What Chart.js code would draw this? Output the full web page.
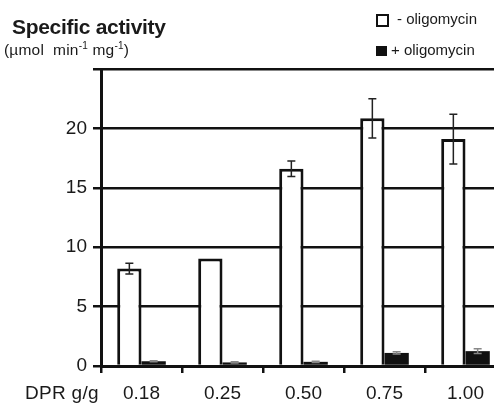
<!DOCTYPE html>
<html>
<head>
<meta charset="utf-8">
<script src="https://cdn.jsdelivr.net/npm/chart.js@4.4.1/dist/chart.umd.min.js"></script>
<style>
    html, body { margin: 0; padding: 0; background: #fff; overflow: hidden; width: 494px; height: 404px; }
    body { position: relative; font-family: "Liberation Sans", Arial, sans-serif; color: #1a1a1a; }
    #chart { position: absolute; left: 0; top: 0; }
    .title { position: absolute; left: 12px; top: 15px; font-size: 21px; font-weight: bold; letter-spacing: -0.3px; }
    .unit { position: absolute; left: 4px; top: 40px; font-size: 15.5px; letter-spacing: 0.2px; }
    .unit sup { font-size: 10px; vertical-align: 6px; }
    .legend { position: absolute; left: 376px; font-size: 15px; }
    .legend .box { display: inline-block; box-sizing: border-box; vertical-align: middle; margin-right: 4px; }
    .xname { position: absolute; left: 25px; top: 382px; font-size: 19px; letter-spacing: 0.3px; }
</style>
</head>
<body>
<canvas id="chart" width="510" height="404"></canvas>
<div class="title">Specific activity</div>
<div class="unit">(µmol&nbsp; min<sup>-1</sup> mg<sup>-1</sup>)</div>
<div class="legend" style="top: 10px;"><span class="box" style="width:13px;height:13px;border:2.5px solid #111;background:#fff;margin-right:8px;"></span>- oligomycin</div>
<div class="legend" style="top: 41px;"><span class="box" style="width:11px;height:10px;background:#111;"></span>+ oligomycin</div>
<div class="xname">DPR g/g</div>
<script>
const categories = ['0.18', '0.25', '0.50', '0.75', '1.00'];
const withoutOligo = [8.2, 9.05, 16.6, 20.85, 19.1];
const withoutOligoErr = [0.45, 0, 0.65, 1.65, 2.1];
const withOligo = [0.4, 0.3, 0.35, 1.1, 1.25];
const withOligoErr = [0.05, 0.05, 0.05, 0.1, 0.2];
const yTicks = [0, 5, 10, 15, 20];

const errorBars = {
    id: 'errorBars',
    afterDatasetsDraw(chart) {
        const ctx = chart.ctx;
        const y = chart.scales.y;
        const sets = [[0, withoutOligo, withoutOligoErr, '#222'], [1, withOligo, withOligoErr, '#888']];
        ctx.save();
        sets.forEach(([idx, vals, errs, color]) => {
            chart.getDatasetMeta(idx).data.forEach((bar, i) => {
                if (!errs[i]) return;
                const top = y.getPixelForValue(vals[i] + errs[i]);
                const bottom = y.getPixelForValue(vals[i] - errs[i]);
                ctx.strokeStyle = color;
                ctx.lineWidth = 1.5;
                ctx.beginPath();
                ctx.moveTo(bar.x, top);
                ctx.lineTo(bar.x, bottom);
                ctx.moveTo(bar.x - 4, top);
                ctx.lineTo(bar.x + 4, top);
                ctx.moveTo(bar.x - 4, bottom);
                ctx.lineTo(bar.x + 4, bottom);
                ctx.stroke();
            });
        });
        ctx.restore();
    }
};

new Chart(document.getElementById('chart'), {
    type: 'bar',
    data: {
        labels: categories,
        datasets: [{
            label: '- oligomycin',
            data: withoutOligo,
            backgroundColor: '#fff',
            borderColor: '#111',
            borderWidth: 3,
            categoryPercentage: 0.6,
            barPercentage: 1
        }, {
            label: '+ oligomycin',
            data: withOligo,
            backgroundColor: '#111',
            borderColor: '#111',
            borderWidth: 0,
            categoryPercentage: 0.6,
            barPercentage: 1
        }]
    },
    options: {
        responsive: false,
        animation: false,
        layout: { padding: { top: 69, right: 4, left: 0, bottom: 0 } },
        plugins: { legend: { display: false }, tooltip: { enabled: false } },
        scales: {
            x: {
                grid: { drawOnChartArea: false, drawTicks: true, tickLength: 7, color: '#111', lineWidth: 2.5, offset: true },
                border: { color: '#111', width: 3 },
                ticks: { color: '#1a1a1a', font: { family: 'Liberation Sans', size: 19 }, padding: 9 },
                afterFit(scale) { scale.height = 38; }
            },
            y: {
                min: 0,
                max: 25,
                afterBuildTicks(scale) {
                    scale.ticks = yTicks.concat([25]).map(v => ({ value: v }));
                },
                grid: { color: '#111', lineWidth: 2.5, tickLength: 8 },
                border: { color: '#111', width: 3 },
                ticks: {
                    color: '#1a1a1a',
                    font: { family: 'Liberation Sans', size: 19 },
                    padding: 6,
                    callback: v => yTicks.includes(v) ? String(v) : ''
                },
                afterFit(scale) { scale.width = 101; }
            }
        }
    },
    plugins: [errorBars]
});
</script>
</body>
</html>
